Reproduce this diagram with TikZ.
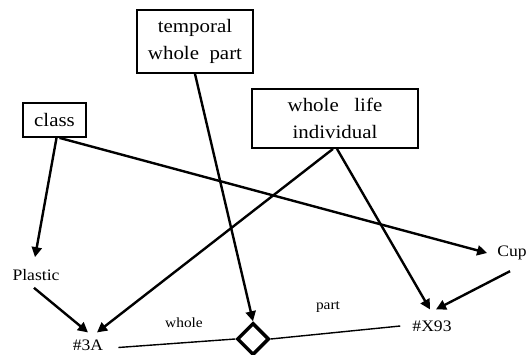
\documentclass[tikz,border=0pt]{standalone}
\usepackage{fontspec}
\setmainfont{Liberation Serif}[FakeStretch=1.1]
\usetikzlibrary{arrows.meta,shapes.geometric}
\begin{document}
\begin{tikzpicture}[x=1pt,y=-1pt,
  box/.style={draw,line width=1.8pt,inner sep=0pt,align=center,font=\fontsize{19}{27}\selectfont},
  lbl/.style={inner sep=1pt,font=\fontsize{16}{18}\selectfont},
  small/.style={inner sep=1pt,font=\fontsize{14}{16}\selectfont},
  arr/.style={line width=2.4pt,-{Triangle[length=10pt,width=10pt]}},
  thinline/.style={line width=1.4pt}]
\useasboundingbox (0,0) rectangle (527,355);
\node[box,minimum width=116pt,minimum height=63pt] (tw) at (195,41.5) {temporal\\whole\ \ part};
\node[box,minimum width=63pt,minimum height=34pt] (cls) at (54.5,120) {class};
\node[box,minimum width=166pt,minimum height=59pt] (wl) at (335,118.5) {whole\ \ \ life\\individual};
\node[lbl] (pl) at (36,275) {Plastic};
\node[lbl] (cup) at (512,253) {Cup};
\node[lbl] (a3) at (88,345.5) {\#3A};
\node[lbl] (x93) at (432,326) {\#X93};
\node[diamond,draw,line width=3.5pt,minimum size=32pt,inner sep=0pt] (dm) at (253,339) {};
\node[small] (wh) at (184,323) {whole};
\node[small] (pt) at (328,307) {part};
\draw[arr] ([xshift=2pt]cls.south) -- ([xshift=-1pt,yshift=11pt]pl.north);
\draw[arr] ([xshift=5pt]cls.south) -- ([xshift=-9pt]cup.west);
\draw[arr] (tw.south) -- (dm.north);
\draw[arr] ([xshift=-2pt]wl.south) -- ([xshift=9pt,yshift=6.5pt]a3.north);
\draw[arr] ([xshift=-2pt,yshift=-6pt]pl.south) -- ([yshift=6.5pt]a3.north);
\draw[arr] ([xshift=2pt]wl.south) -- ([xshift=-2pt,yshift=10pt]x93.north);
\draw[arr] ([xshift=-2pt,yshift=-10pt]cup.south) -- ([xshift=4pt,yshift=10pt]x93.north);
\draw[thinline] ([xshift=14pt,yshift=-2pt]a3.east) -- (dm.west);
\draw[thinline] (dm.east) -- ([xshift=-11pt]x93.west);
\end{tikzpicture}
\end{document}
